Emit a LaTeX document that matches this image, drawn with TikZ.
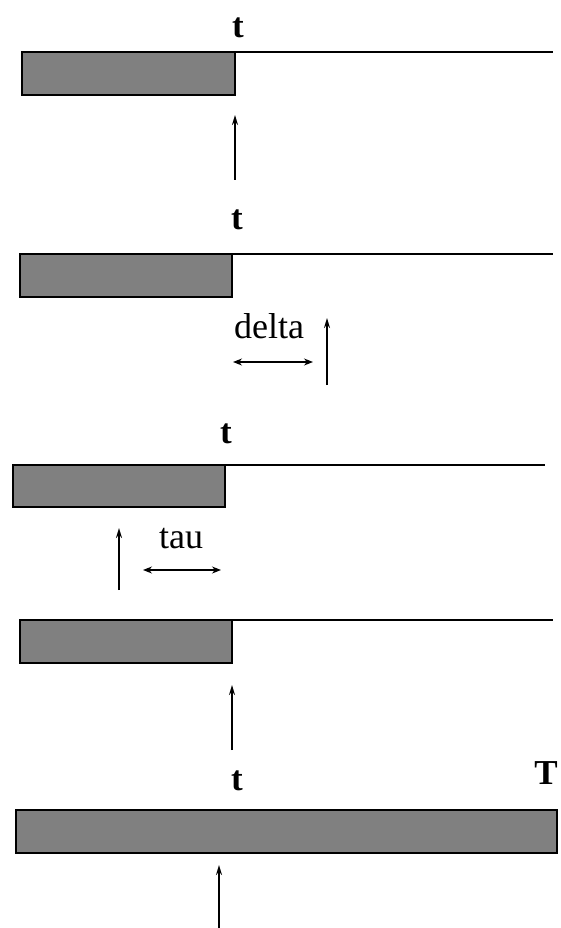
\documentclass[tikz,border=0pt]{standalone}
\usepackage{fontspec}
\setmainfont{Liberation Serif}
\usepackage{xcolor}
\definecolor{barfill}{HTML}{808080}
\usetikzlibrary{arrows.meta,positioning}

\tikzset{
  bar/.style={draw=black, line width=1.8pt, fill=barfill},
  rest/.style={black, line width=1.3pt},
  mark arrow/.style={black, line width=1.6pt, -{Stealth[length=10pt,width=6pt]}},
  span arrow/.style={black, line width=1.2pt, {Stealth[length=9pt,width=7pt]}-{Stealth[length=9pt,width=7pt]}},
  lbl/.style={font=\fontsize{36}{42}\selectfont, anchor=base, inner sep=0pt},
  tlbl/.style={lbl, font=\fontsize{35}{42}\selectfont\bfseries},
}

\begin{document}
\begin{tikzpicture}[x=1pt, y=-1pt]
  \useasboundingbox (0,0) rectangle (561,928);
  % Row 1: arrival at t
  \draw[bar] (22,52) rectangle (235,95);
  \draw[rest] (235,52) -- (553,52);
  \node[tlbl] (t1) at (238,38) {t};
  \coordinate (a1) at (235,180);
  \coordinate (b1) at (235,115);
  \draw[mark arrow] (a1) -- (b1);
  % Row 2: arrival delta later
  \draw[bar] (20,254) rectangle (232,297);
  \draw[rest] (232,254) -- (553,254);
  \node[tlbl] (t2) at (237,229) {t};
  \node[lbl] (delta) at (269,338) {delta};
  \coordinate (d1) at (233,362);
  \coordinate (d2) at (313,362);
  \draw[span arrow] (d1) -- (d2);
  \coordinate (a2) at (327,385);
  \coordinate (b2) at (327,318);
  \draw[mark arrow] (a2) -- (b2);
  % Row 3: arrival tau earlier
  \draw[bar] (13,465) rectangle (225,507);
  \draw[rest] (225,465) -- (545,465);
  \node[tlbl] (t3) at (226,443) {t};
  \node[lbl] (tau) at (181,548) {tau};
  \coordinate (e1) at (143,570);
  \coordinate (e2) at (221,570);
  \draw[span arrow] (e1) -- (e2);
  \coordinate (a3) at (119,590);
  \coordinate (b3) at (119,528);
  \draw[mark arrow] (a3) -- (b3);
  % Row 4
  \draw[bar] (20,620) rectangle (232,663);
  \draw[rest] (232,620) -- (553,620);
  \coordinate (a4) at (232,750);
  \coordinate (b4) at (232,685);
  \draw[mark arrow] (a4) -- (b4);
  % Row 5: whole horizon up to T
  \draw[bar] (16,810) rectangle (557,853);
  \node[tlbl] (t5) at (237,790) {t};
  \node[tlbl] (T5) at (546,784) {T};
  \coordinate (a5) at (219,928);
  \coordinate (b5) at (219,865);
  \draw[mark arrow] (a5) -- (b5);
\end{tikzpicture}
\end{document}
